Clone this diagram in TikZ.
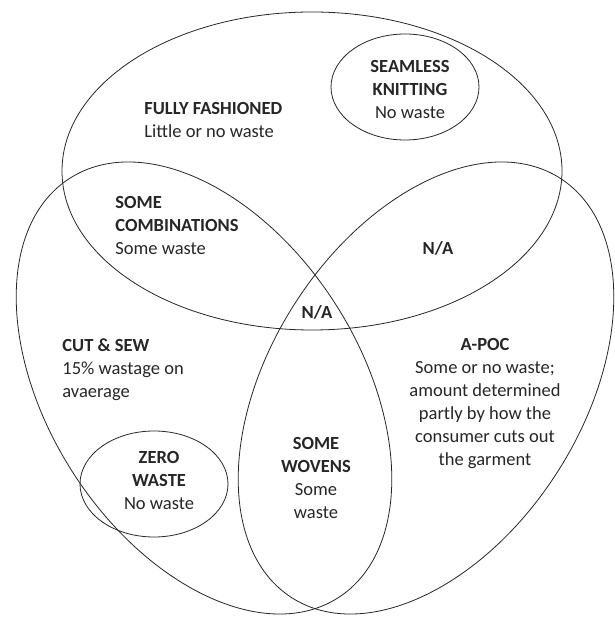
\documentclass[tikz,border=0pt]{standalone}
\usepackage{fontspec}
\setmainfont{Carlito}
\usepackage{tikz}
\usetikzlibrary{positioning}

\begin{document}
\begin{tikzpicture}[x=1pt, y=1pt, line width=0.8pt,
    lbl/.style={inner sep=0pt, text=black!85, font=\fontsize{18.5}{23}\selectfont},
    ring/.style={draw=black!85}]
  \useasboundingbox (0,0) rectangle (615,621);
  % the three big sets
  \draw[ring] (312,450) ellipse [x radius=250pt, y radius=159pt];
  \draw[ring, rotate around={-57.4:(204,233)}] (204,233) ellipse [x radius=249pt, y radius=156pt];
  \draw[ring, rotate around={57.4:(426,233)}] (426,233) ellipse [x radius=249pt, y radius=156pt];
  % small sets
  \draw[ring] (405,534) ellipse [x radius=74pt, y radius=53pt];
  \draw[ring] (154,137) ellipse [x radius=74pt, y radius=53pt];

  \node[lbl, align=left, anchor=west] (ff) at (144,501) {\textbf{FULLY FASHIONED}\\Little or no waste};
  \node[lbl, align=center] (seam) at (410,531) {\textbf{SEAMLESS}\\\textbf{KNITTING}\\No waste};
  \node[lbl, align=left, anchor=west] (combo) at (115,395) {\textbf{SOME}\\\textbf{COMBINATIONS}\\Some waste};
  \node[lbl] (naright) at (438,373) {\textbf{N/A}};
  \node[lbl] (namid) at (317,309) {\textbf{N/A}};
  \node[lbl, align=left, anchor=west] (cut) at (62,251) {\textbf{CUT \& SEW}\\15\% wastage on\\avaerage};
  \node[lbl, align=center] (apoc) at (485,217) {\textbf{A-POC}\\Some or no waste;\\amount determined\\partly by how the\\consumer cuts out\\the garment};
  \node[lbl, align=center] (woven) at (316,143) {\textbf{SOME}\\\textbf{WOVENS}\\Some\\waste};
  \node[lbl, align=center] (zero) at (159,140) {\textbf{ZERO}\\\textbf{WASTE}\\No waste};
\end{tikzpicture}
\end{document}
